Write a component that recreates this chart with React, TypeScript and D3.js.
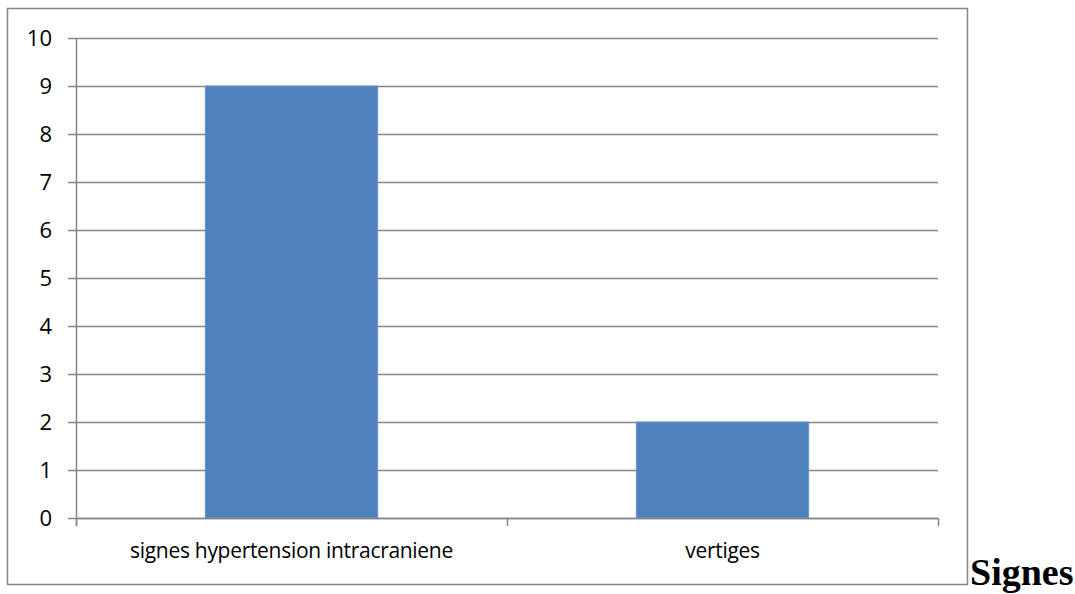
import React, { useEffect, useRef } from 'react';
import * as d3 from 'd3';

const categories = ['signes hypertension intracraniene', 'vertiges'];
const values = [9, 2];
const yTicks = [0, 1, 2, 3, 4, 5, 6, 7, 8, 9, 10];
const titleText = 'Signes';

export default function App() {
  const svgRef = useRef<SVGSVGElement>(null);

  useEffect(() => {
    if (!svgRef.current) return;
    const svg = d3.select(svgRef.current);
    svg.selectAll('*').remove();

    const left = 76;
    const right = 938;
    const top = 38;
    const bottom = 518;
    const gray = '#868686';
    const font = "'Open Sans', 'Noto Sans', sans-serif";

    // outer chart border
    svg
      .append('rect')
      .attr('x', 7.5)
      .attr('y', 8.5)
      .attr('width', 960)
      .attr('height', 576)
      .attr('fill', '#fff')
      .attr('stroke', gray)
      .attr('stroke-width', 1.5);

    const x = d3.scaleBand().domain(categories).range([left, right]).padding(0);
    const y = d3.scaleLinear().domain([0, 10]).range([bottom, top]);

    // gridlines
    svg
      .append('g')
      .selectAll('line')
      .data(yTicks)
      .enter()
      .append('line')
      .attr('x1', left - 8)
      .attr('x2', right)
      .attr('y1', (d) => Math.round(y(d)) + 0.5)
      .attr('y2', (d) => Math.round(y(d)) + 0.5)
      .attr('stroke', gray)
      .attr('stroke-width', 1.5);

    // y labels
    svg
      .append('g')
      .selectAll('text')
      .data(yTicks)
      .enter()
      .append('text')
      .attr('x', 52)
      .attr('y', (d) => y(d) + 8)
      .attr('text-anchor', 'end')
      .style('font-family', font)
      .style('font-size', '22px')
      .style('fill', '#000')
      .text((d) => d);

    // bars
    const barW = x.bandwidth() * 0.4;
    svg
      .append('g')
      .selectAll('rect')
      .data(values)
      .enter()
      .append('rect')
      .attr('x', (d, i) => (x(categories[i]) || 0) + (x.bandwidth() - barW) / 2)
      .attr('y', (d) => y(d))
      .attr('width', barW)
      .attr('height', (d) => bottom - y(d))
      .attr('fill', '#4F81BD')
      .attr('stroke', '#6C96CC')
      .attr('stroke-width', 1);

    // y axis line
    svg
      .append('line')
      .attr('x1', left + 0.5)
      .attr('x2', left + 0.5)
      .attr('y1', top)
      .attr('y2', bottom + 8)
      .attr('stroke', gray)
      .attr('stroke-width', 1.5);

    // x axis ticks
    const xTickPos = [left, ...categories.map((c) => (x(c) || 0) + x.bandwidth())];
    svg
      .append('g')
      .selectAll('line')
      .data(xTickPos)
      .enter()
      .append('line')
      .attr('x1', (d) => d + 0.5)
      .attr('x2', (d) => d + 0.5)
      .attr('y1', bottom)
      .attr('y2', bottom + 8)
      .attr('stroke', gray)
      .attr('stroke-width', 1.5);

    // x axis line
    svg
      .append('line')
      .attr('x1', left)
      .attr('x2', right)
      .attr('y1', bottom + 0.5)
      .attr('y2', bottom + 0.5)
      .attr('stroke', gray)
      .attr('stroke-width', 1.5);

    // category labels
    svg
      .append('g')
      .selectAll('text')
      .data(categories)
      .enter()
      .append('text')
      .attr('x', (d) => (x(d) || 0) + x.bandwidth() / 2)
      .attr('y', 558)
      .attr('text-anchor', 'middle')
      .style('font-family', font)
      .style('font-size', '21px')
      .style('letter-spacing', '-0.3px')
      .style('fill', '#000')
      .text((d) => d);

    svg
      .append('text')
      .attr('x', 970)
      .attr('y', 585)
      .style('font-family', "'Liberation Serif', 'Times New Roman', serif")
      .style('font-weight', 'bold')
      .style('font-size', '38px')
      .style('fill', '#000')
      .text(titleText);
  }, []);

  return (
    <svg
      ref={svgRef}
      width={1075}
      height={594}
      style={{ position: 'absolute', left: 0, top: 0 }}
    ></svg>
  );
}
